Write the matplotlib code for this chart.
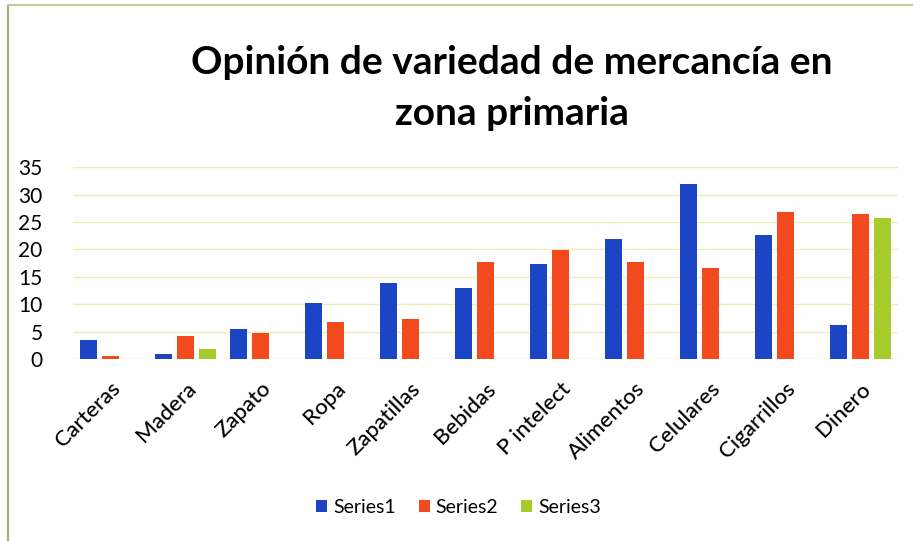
import matplotlib.pyplot as plt
import numpy as np
from matplotlib.lines import Line2D

categories = ["Carteras", "Madera", "Zapato", "Ropa", "Zapatillas", "Bebidas",
              "P intelect", "Alimentos", "Celulares", "Cigarrillos", "Dinero"]
series1 = [3.5, 0.9, 5.5, 10.2, 13.9, 13.0, 17.3, 21.9, 32.0, 22.6, 6.2]
series2 = [0.6, 4.2, 4.7, 6.7, 7.4, 17.7, 19.9, 17.7, 16.7, 26.8, 26.5]
series3 = [0, 1.9, 0, 0, 0, 0, 0, 0, 0, 0, 25.8]
series_names = ["Series1", "Series2", "Series3"]

BLUE = "#1b45c4"
RED = "#f2491e"
GREEN = "#a6cc2c"

# Lato is the closest installed match to the Calibri look of the original
plt.rcParams["font.family"] = ["Lato", "DejaVu Sans"]

fig = plt.figure(figsize=(9.17, 5.41), dpi=100)
ax = fig.add_axes([0.0796, 0.336, 0.8994, 0.355])

x = np.arange(len(categories))
off, w = 0.293, 0.227
ax.bar(x - off, series1, w, color=BLUE, label=series_names[0], zorder=3)
ax.bar(x, series2, w, color=RED, label=series_names[1], zorder=3)
ax.bar(x + off, series3, w, color=GREEN, label=series_names[2], zorder=3)

ax.set_xlim(-0.5, 10.5)
ax.set_ylim(0, 35)
ax.set_yticks(range(0, 36, 5))
ax.grid(axis="y", color="#f0ecb8", lw=1.0, zorder=0)
for s in ax.spines.values():
    s.set_visible(False)
ax.axhline(0, color="#e8e4b0", lw=1.0, zorder=2)
ax.tick_params(axis="both", length=0, labelsize=15, colors="black")
ax.tick_params(axis="y", pad=22)
ax.tick_params(axis="x", pad=14)
ax.set_xticks(x)
ax.set_xticklabels(categories, rotation=45, ha="right", rotation_mode="anchor",
                   fontsize=16, fontweight="medium")

fig.text(0.558, 0.885, "Opinión de variedad de mercancía en", ha="center",
         va="center", fontsize=28, fontweight="bold")
fig.text(0.558, 0.79, "zona primaria", ha="center", va="center",
         fontsize=28, fontweight="bold")

ax.legend(loc="center", bbox_to_anchor=(0.5, 0.062), bbox_transform=fig.transFigure,
          ncol=3, frameon=False, fontsize=14, handlelength=0.55, handleheight=0.55,
          handletextpad=0.3, columnspacing=1.2)

# chart frame (left and top edges visible)
fig.add_artist(Line2D([0.009, 0.009], [0.0, 0.99], color="#a8a878", lw=1.5))
fig.add_artist(Line2D([0.009, 0.995], [0.99, 0.99], color="#c8c8a0", lw=1.5))

fig.savefig("out.png", dpi=100)
